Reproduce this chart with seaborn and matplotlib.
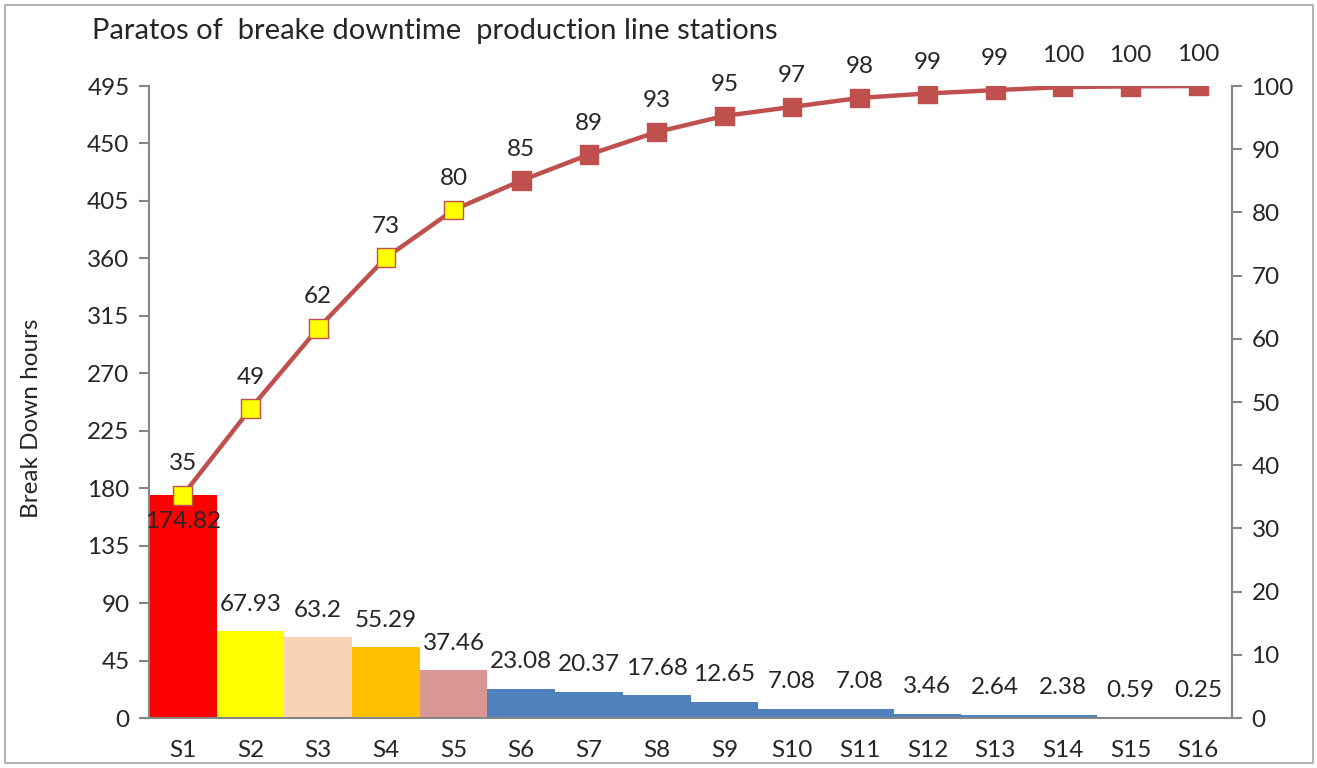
import numpy as np
import pandas as pd
import matplotlib
matplotlib.use("Agg")
import matplotlib.pyplot as plt
from matplotlib.patches import Rectangle
import seaborn as sns

# Downtime per station (hours)
stations = ["S1", "S2", "S3", "S4", "S5", "S6", "S7", "S8",
            "S9", "S10", "S11", "S12", "S13", "S14", "S15", "S16"]
hours = [174.82, 67.93, 63.2, 55.29, 37.46, 23.08, 20.37, 17.68,
         12.65, 7.08, 7.08, 3.46, 2.64, 2.38, 0.59, 0.25]
bar_colors = ["#FF0000", "#FFFF00", "#FAD3B5", "#FFC000", "#D99694"] + ["#4F81BD"] * 11
left_ticks = [0, 45, 90, 135, 180, 225, 270, 315, 360, 405, 450, 495]
right_ticks = [0, 10, 20, 30, 40, 50, 60, 70, 80, 90, 100]

df = pd.DataFrame({"station": stations, "hours": hours})
df["cum_pct"] = df["hours"].cumsum() / df["hours"].sum() * 100

sns.set_theme(style="white")
plt.rcParams["font.family"] = ["Lato", "DejaVu Sans"]
axis_gray = "#868686"
line_red = "#C0504D"
fs = 17.5

fig = plt.figure(figsize=(13.17, 7.68), dpi=100)
ax = fig.add_axes([0.1131, 0.0651, 0.8224, 0.8229])

sns.barplot(data=df, x="station", y="hours", hue="station", palette=bar_colors,
            width=1.0, legend=False, ax=ax, saturation=1, linewidth=0)
ax.set_xlim(-0.5, len(stations) - 0.5)
ax.set_ylim(0, 495)
ax.set_yticks(left_ticks)
ax.set_ylabel("Break Down hours", fontsize=fs)
ax.yaxis.set_label_coords(-0.099, 0.475)
ax.set_xlabel("")

# Bar value labels
for i, v in enumerate(hours):
    if i == 0:
        ax.annotate(f"{v:g}", (i, v), xytext=(0, -12), textcoords="offset points",
                    ha="center", va="top", fontsize=fs)
    else:
        ax.annotate(f"{v:g}", (i, v), xytext=(0, 12), textcoords="offset points",
                    ha="center", va="bottom", fontsize=fs)

# Cumulative percentage on the secondary axis
ax2 = ax.twinx()
x = np.arange(len(stations))
sns.lineplot(x=x, y=df["cum_pct"], ax=ax2, color=line_red, linewidth=3.2, zorder=3)
face = ["#FFFF00"] * 5 + [line_red] * 11
ax2.scatter(x, df["cum_pct"], marker="s", s=13.5 ** 2, c=face,
            edgecolors=line_red, linewidths=1.0, zorder=4)
for i, p in enumerate(df["cum_pct"]):
    ax2.annotate(f"{p:.0f}", (i, p), xytext=(0, 15), textcoords="offset points",
                 ha="center", va="bottom", fontsize=fs)
ax2.set_ylim(0, 100)
ax2.set_yticks(right_ticks)
ax2.set_ylabel("")

for a in (ax, ax2):
    for s in a.spines.values():
        s.set_visible(False)
ax.spines["left"].set_visible(True)
ax.spines["bottom"].set_visible(True)
ax2.spines["right"].set_visible(True)
for s in (ax.spines["left"], ax.spines["bottom"], ax2.spines["right"]):
    s.set_color(axis_gray)
    s.set_linewidth(1.5)

ax.tick_params(axis="y", which="both", left=True, length=7, width=1.5, color=axis_gray,
               labelsize=fs, pad=7)
ax.tick_params(axis="x", length=0, labelsize=fs, pad=16)
ax2.tick_params(axis="y", right=True, length=7, width=1.5, color=axis_gray,
                labelsize=fs, pad=7)
ax.grid(False)
ax2.grid(False)

fig.text(0.07, 0.960, "Paratos of  breake downtime  production line stations",
         fontsize=21, ha="left", va="center")

fig.patches.append(Rectangle((0.004, 0.006), 0.993, 0.988, transform=fig.transFigure,
                             fill=False, edgecolor="#A6A6A6", linewidth=1.2))

fig.savefig("out.png", dpi=100)
